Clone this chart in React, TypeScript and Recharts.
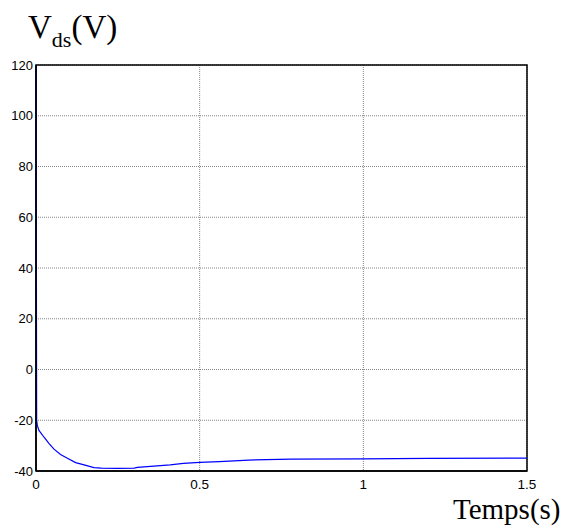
import React from 'react'
import { CartesianGrid, Line, LineChart, ReferenceArea, XAxis, YAxis } from 'recharts'

// drain-source voltage over time
const timeSec = [0, 0.002, 0.004, 0.009, 0.024, 0.04, 0.055, 0.075, 0.096, 0.121, 0.147, 0.177, 0.2, 0.25, 0.3, 0.31, 0.36, 0.41, 0.45, 0.5, 0.56, 0.65, 0.78, 1.0, 1.2, 1.5]
const vdsValues = [120, -20, -22, -24, -26.6, -29.2, -31.4, -33.5, -35, -36.7, -37.6, -38.7, -38.9, -39, -38.9, -38.6, -38.1, -37.6, -37, -36.6, -36.3, -35.7, -35.3, -35.2, -35, -34.9]

const xTicks = [0, 0.5, 1, 1.5]
const yTicks = [-40, -20, 0, 20, 40, 60, 80, 100, 120]

const points = timeSec.map((t, i) => ({ t, vds: vdsValues[i] }))

const sans = '"Liberation Sans", Arial, sans-serif'
const serif = '"Liberation Serif", "Times New Roman", serif'

export default function App() {
  return (
    <div style={{ position: 'absolute', left: 0, top: 0, width: 566, height: 532, background: '#fff' }}>
      <div style={{ position: 'absolute', left: 28, top: 9, fontFamily: serif, fontSize: 33, color: '#000', whiteSpace: 'nowrap' }}>
        V<span style={{ fontSize: 22, position: 'relative', top: 9 }}>ds</span>(V)
      </div>
      <LineChart width={566} height={532} data={points} margin={{ top: 65, right: 39, left: 0, bottom: 0 }}>
        <CartesianGrid stroke="#666" strokeDasharray="1 1" strokeWidth={0.8} />
        <XAxis
          dataKey="t"
          type="number"
          domain={[0, 1.5]}
          ticks={xTicks}
          interval={0}
          tickFormatter={(v: number) => String(v)}
          height={61}
          tickLine={false}
          tickSize={0}
          tickMargin={8}
          axisLine={{ stroke: '#000', strokeWidth: 1.5 }}
          tick={{ fontFamily: sans, fontSize: 13.5, fill: '#000' }}
        />
        <YAxis
          type="number"
          domain={[-40, 120]}
          ticks={yTicks}
          interval={0}
          width={36}
          tickLine={false}
          tickSize={0}
          tickMargin={3}
          axisLine={{ stroke: '#000', strokeWidth: 1.5 }}
          tick={{ fontFamily: sans, fontSize: 13, fill: '#000' }}
        />
        <ReferenceArea x1={0} x2={1.5} y1={-40} y2={120} fill="none" stroke="#000" strokeWidth={1.5} ifOverflow="visible" />
        <Line type="linear" dataKey="vds" stroke="#0000ff" strokeWidth={1.2} dot={false} isAnimationActive={false} />
      </LineChart>
      <div style={{ position: 'absolute', left: 453, top: 495, fontFamily: serif, fontSize: 29, lineHeight: 1, color: '#000', whiteSpace: 'nowrap' }}>
        Temps(s)
      </div>
    </div>
  )
}
